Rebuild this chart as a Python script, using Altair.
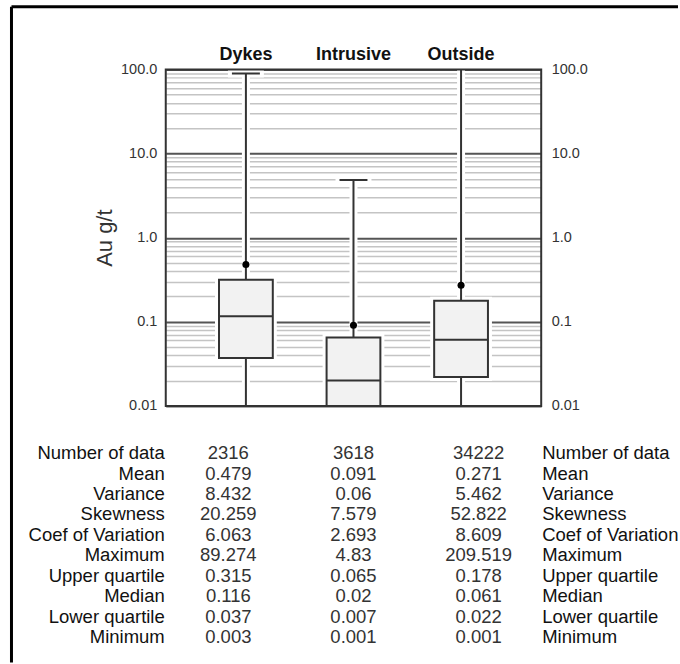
import altair as alt
import pandas as pd

# Summary statistics of Au (g/t) by domain
groups = ["Dykes", "Intrusive", "Outside"]
n_data = [2316, 3618, 34222]
mean = [0.479, 0.091, 0.271]
variance = [8.432, 0.06, 5.462]
skewness = [20.259, 7.579, 52.822]
coef_var = [6.063, 2.693, 8.609]
maximum = [89.274, 4.83, 209.519]
upper_q = [0.315, 0.065, 0.178]
median = [0.116, 0.02, 0.061]
lower_q = [0.037, 0.007, 0.022]
minimum = [0.003, 0.001, 0.001]

stat_names = ["Number of data", "Mean", "Variance", "Skewness", "Coef of Variation",
              "Maximum", "Upper quartile", "Median", "Lower quartile", "Minimum"]
stat_values = [n_data, mean, variance, skewness, coef_var,
               maximum, upper_q, median, lower_q, minimum]

decades = [0.01, 0.1, 1, 10, 100]
grid_values = [m * d for d in decades[:-1] for m in range(1, 10)] + [100]

W, H = 376, 337
TABLE_H = 205
INK = "#333333"

box_df = pd.DataFrame({
    "group": groups, "mean": mean, "max": maximum, "q3": upper_q,
    "median": median, "q1": lower_q, "min": minimum,
})

is_decade = "indexof([0.01, 0.1, 1, 10, 100], datum.value) >= 0"
label_expr = (f"{is_decade} ? (datum.value < 0.05 ? '0.01' : format(datum.value, '.1f')) : ''")

band = alt.Scale(paddingInner=0.5, paddingOuter=0.495)
x_enc = alt.X("group:N", sort=groups, scale=band,
              axis=alt.Axis(orient="top", title=None, ticks=False, domain=False,
                            labelAngle=0, labelFontSize=18, labelFontWeight="bold",
                            labelColor="#111111", labelPadding=10,
                            labelBaseline="alphabetic"))

y_scale = alt.Scale(type="log", domain=[0.01, 100], nice=False)

left_axis = alt.Axis(
    orient="left", values=grid_values, labelExpr=label_expr, labelOverlap=False,
    ticks=False, domain=False, grid=True,
    gridColor={"condition": {"test": is_decade, "value": "#555555"}, "value": "#c4c4c4"},
    gridWidth={"condition": {"test": is_decade, "value": 2}, "value": 1.5},
    labelFontSize=14.5, labelColor=INK, labelPadding=9,
    title="Au g/t", titleFontSize=22, titleFontWeight="normal", titleColor=INK,
    titlePadding=4,
)
right_axis = alt.Axis(
    orient="right", values=decades, labelExpr=label_expr, labelOverlap=False,
    ticks=False, domain=False, grid=False,
    labelFontSize=14.5, labelColor=INK, labelPadding=10, title=None,
)

base = alt.Chart(box_df)

# white halos that break the grid lines around the boxes and whiskers
halo_whisker = base.mark_rule(clip=True, color="white", strokeWidth=8, opacity=1).encode(
    x=x_enc, y=alt.Y("min:Q", scale=y_scale, axis=left_axis), y2="max:Q")
halo_box = base.mark_bar(clip=True, fill="white", stroke="white", strokeWidth=8, opacity=1).encode(
    x=x_enc, y=alt.Y("q1:Q", scale=y_scale, axis=None), y2="q3:Q")
halo_cap = base.mark_tick(clip=True, color="white", thickness=8, size=36, opacity=1).encode(
    x=x_enc, y=alt.Y("max:Q", scale=y_scale, axis=None))

whisker = base.mark_rule(clip=True, color=INK, strokeWidth=2, opacity=1).encode(
    x=x_enc, y=alt.Y("min:Q", scale=y_scale, axis=None), y2="max:Q")
cap = base.mark_tick(clip=True, color=INK, thickness=2, size=28, opacity=1).encode(
    x=x_enc, y=alt.Y("max:Q", scale=y_scale, axis=None))
box = base.mark_bar(clip=True, fill="#f2f2f2", stroke=INK, strokeWidth=2, opacity=1).encode(
    x=x_enc, y=alt.Y("q1:Q", scale=y_scale, axis=None), y2="q3:Q")
med = base.mark_tick(clip=True, color=INK, thickness=2, size=54, opacity=1).encode(
    x=x_enc, y=alt.Y("median:Q", scale=y_scale, axis=None))
mean_pt = base.mark_circle(clip=True, color="black", size=50, opacity=1).encode(
    x=x_enc, y=alt.Y("mean:Q", scale=y_scale, axis=right_axis))

one = pd.DataFrame({"k": [0]})
plot_frame = alt.Chart(one).mark_rect(fillOpacity=0, stroke=INK, strokeWidth=2).encode(
    x=alt.value(0), x2=alt.value(W), y=alt.value(0), y2=alt.value(H))
page_top = alt.Chart(one).mark_rule(color="black", strokeWidth=3).encode(
    x=alt.value(-154.5), x2=alt.value(513), y=alt.value(-62.7))
page_left = alt.Chart(one).mark_rule(color="black", strokeWidth=3).encode(
    x=alt.value(-154.5), y=alt.value(-62.7), y2=alt.value(594))

plot = alt.layer(
    halo_whisker, halo_box, halo_cap, whisker, cap, box, med, mean_pt,
    plot_frame, page_top, page_left,
).resolve_axis(y="independent").properties(width=W, height=H)

# statistics table under the plot
table_df = pd.DataFrame([
    {"stat": s, "group": g, "label": str(v)}
    for s, vals in zip(stat_names, stat_values)
    for g, v in zip(groups, vals)
])
names_df = pd.DataFrame({"stat": stat_names})

tx = alt.X("group:N", sort=groups, scale=band, axis=None)
ty = alt.Y("stat:N", sort=stat_names, scale=alt.Scale(paddingInner=0, paddingOuter=0), axis=None)

TFS = 18.5
values_text = alt.Chart(table_df).mark_text(fontSize=TFS, color=INK, baseline="middle").encode(
    x=tx, y=ty, text="label:N")
left_names = alt.Chart(names_df).mark_text(fontSize=TFS, color="#111111", align="right",
                                           baseline="middle", dx=-1).encode(
    x=alt.value(0), y=ty, text="stat:N")
right_names = alt.Chart(names_df).mark_text(fontSize=TFS, color="#111111", align="left",
                                            baseline="middle", dx=1).encode(
    x=alt.value(W), y=ty, text="stat:N")

table = alt.layer(left_names, values_text, right_names).properties(width=W, height=TABLE_H)

chart = alt.vconcat(plot, table, spacing=37, bounds="flush").properties(
    padding={"left": 9, "top": 4, "right": 0, "bottom": 0}
).configure(font="Liberation Sans").configure_view(stroke="transparent")

chart.save("out.html", embed_options={"renderer": "svg", "actions": False})
